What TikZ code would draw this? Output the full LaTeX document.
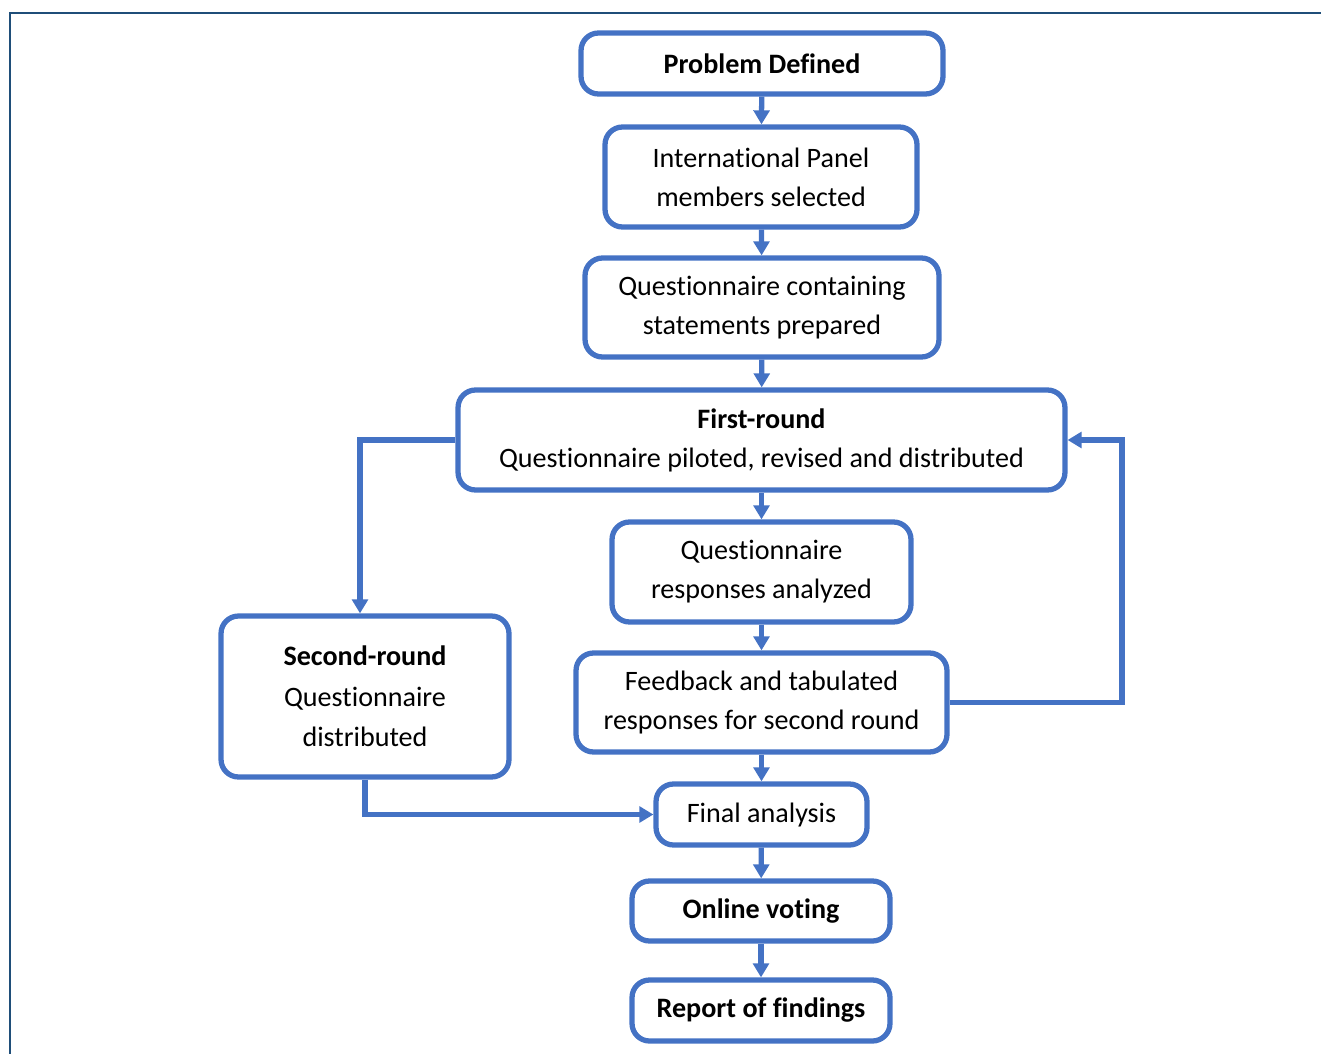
\documentclass[tikz,border=0pt]{standalone}
\usepackage{fontspec}
\setmainfont[Ligatures=NoCommon]{Carlito}
\usetikzlibrary{arrows.meta}

\definecolor{boxblue}{HTML}{4472C4}
\definecolor{framenavy}{HTML}{1F4E79}

\begin{document}
\begin{tikzpicture}[x=0.02cm,y=-0.02cm]

      \useasboundingbox (0,0) rectangle (1321,1054);
      \draw[framenavy, line width=1.7pt] (10,1100) -- (10,13) -- (1400,13);

      \begin{scope}[every node/.style={draw=boxblue, line width=3pt, rounded corners=0.35cm,
          align=center, inner sep=2pt, font=\fontsize{16}{22.2}\selectfont}]
        \node[minimum width=7.24cm, minimum height=1.22cm] (problem)  at (762,63.5)   {\textbf{Problem Defined}};
        \node[minimum width=6.24cm, minimum height=2.0cm] (panel)     at (761,177)    {International Panel\\members selected};
        \node[minimum width=7.08cm, minimum height=1.98cm] (prepared) at (762,307.5)  {Questionnaire containing\\statements prepared};
        \node[minimum width=12.14cm, minimum height=2.0cm] (first)    at (761.5,440)  {\textbf{First-round}\\Questionnaire piloted, revised and distributed};
        \node[minimum width=5.98cm, minimum height=2.0cm] (analyzed)  at (761.5,572)  {Questionnaire\\responses analyzed};
        \node[minimum width=7.42cm, minimum height=1.98cm] (feedback) at (761.5,702.5) {Feedback and tabulated\\responses for second round};
        \node[minimum width=5.76cm, minimum height=3.22cm, font=\fontsize{16}{23}\selectfont] (second) at (365,696.5) {\textbf{Second-round}\\Questionnaire\\distributed};
        \node[minimum width=4.22cm, minimum height=1.22cm] (final)    at (761.5,814.5) {Final analysis};
        \node[minimum width=5.16cm, minimum height=1.2cm] (voting)    at (761,911)    {\textbf{Online voting}};
        \node[minimum width=5.16cm, minimum height=1.22cm] (report)   at (761,1010.5) {\textbf{Report of findings}};
      \end{scope}

      \coordinate (loop) at (1122,440);

      \begin{scope}[every edge/.style={draw=boxblue, line width=3pt, -{Triangle[length=8pt,width=9pt]}}]
        \path (problem)  edge (panel);
        \path (panel)    edge (prepared);
        \path (prepared) edge (first);
        \path (first)    edge (analyzed);
        \path (analyzed) edge (feedback);
        \path (feedback) edge (final);
        \path (final)    edge (voting);
        \path (voting)   edge (report);
      \end{scope}

      \begin{scope}[draw=boxblue, line width=3pt, -{Triangle[length=8pt,width=9pt]}]
        \draw (first.west) -| ([xshift=-0.1cm]second.north);
        \draw (second.south) |- (final.west);
        \draw (feedback.east) -| (loop) -- (first.east);
      \end{scope}

    \end{tikzpicture}
\end{document}
